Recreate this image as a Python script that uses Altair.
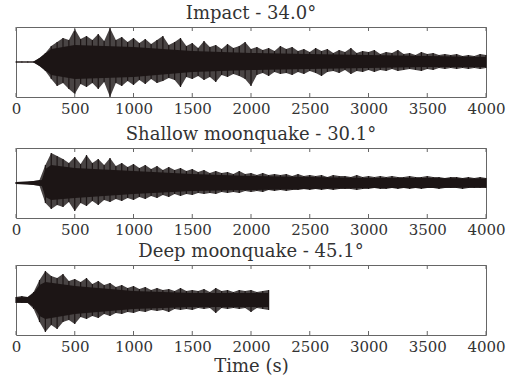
import altair as alt
import pandas as pd

# Time axis (s) and tick positions
tick_values = [0, 500, 1000, 1500, 2000, 2500, 3000, 3500, 4000]
t_full = list(range(0, 4001, 50))
t_deep = list(range(0, 2151, 50))

# Peak envelope of each trace (upper peak and lower trough magnitude, arbitrary units)
impact_upper = [0.5, 0.5, 0.5, 0.5, 4, 9, 16, 20, 24, 22, 33, 23, 26, 22, 28, 21, 34, 22, 25, 20,
                24, 19, 23, 18, 22, 26, 17, 20, 24, 16, 19, 14, 21, 15, 17, 13, 18, 14, 16, 20,
                13, 15, 12, 14, 11, 16, 13, 15, 11, 13, 10, 14, 11, 13, 9, 12, 10, 14, 9, 11,
                10, 12, 8, 10, 9, 12, 8, 9, 7, 10, 8, 9, 7, 8, 7, 8, 6, 7, 6, 8, 7]
impact_lower = [0.5, 0.5, 0.5, 0.5, 4, 9, 17, 24, 21, 27, 32, 22, 25, 21, 27, 20, 35, 21, 24, 19,
                23, 18, 22, 17, 21, 19, 16, 18, 25, 15, 17, 14, 18, 15, 20, 13, 15, 12, 14, 17,
                24, 13, 11, 14, 10, 12, 11, 13, 10, 12, 9, 11, 14, 10, 9, 11, 8, 12, 9, 10,
                8, 10, 8, 9, 7, 9, 8, 7, 8, 9, 7, 8, 6, 7, 6, 7, 6, 7, 6, 7, 6]

shallow_upper = [1, 1, 1, 2, 3, 18, 30, 27, 24, 20, 26, 19, 28, 20, 24, 18, 25, 17, 20, 16,
                 19, 15, 18, 14, 17, 13, 16, 13, 15, 12, 14, 11, 13, 10, 12, 10, 11, 9, 12, 9,
                 10, 8, 10, 8, 9, 8, 9, 7, 9, 7, 8, 7, 8, 6, 8, 7, 7, 6, 8, 6,
                 7, 6, 7, 6, 7, 6, 6, 7, 6, 6, 7, 6, 6, 5, 6, 6, 5, 6, 5, 6, 5]
shallow_lower = [1, 1, 1, 2, 3, 20, 26, 22, 24, 19, 28, 20, 23, 18, 22, 17, 19, 16, 18, 15,
                 17, 14, 16, 13, 15, 12, 14, 11, 13, 11, 12, 10, 11, 10, 11, 9, 10, 9, 10, 8,
                 9, 8, 9, 7, 8, 7, 8, 7, 7, 6, 7, 6, 7, 6, 7, 6, 6, 6, 7, 6,
                 6, 5, 6, 6, 5, 6, 5, 6, 5, 6, 5, 5, 6, 5, 5, 5, 6, 5, 5, 5, 5]

deep_upper = [3, 4, 3, 8, 20, 29, 24, 22, 26, 19, 21, 18, 22, 16, 19, 15, 17, 13, 15, 12,
              14, 11, 13, 10, 12, 10, 11, 9, 12, 9, 10, 9, 11, 8, 12, 9, 10, 8, 10, 9,
              10, 8, 9, 10]
deep_lower = [3, 3, 3, 9, 22, 32, 25, 29, 22, 20, 24, 17, 19, 16, 18, 14, 16, 13, 14, 12,
              13, 11, 12, 10, 11, 10, 12, 9, 10, 9, 10, 8, 9, 8, 13, 8, 9, 8, 9, 8,
              12, 8, 9, 10]

# Dense core of each trace (where the signal is solid black)
impact_core_t = [0, 150, 200, 300, 500, 1000, 1500, 2000, 2500, 3000, 3500, 4000]
impact_core_hi = [0.5, 0.5, 4, 13, 17, 15, 11, 9, 8, 7, 6, 5]
impact_core_lo = [0.5, 0.5, 4, 13, 17, 15, 10, 8, 7, 6, 5, 5]

shallow_core_t = [0, 150, 220, 250, 300, 500, 1000, 1500, 2000, 2500, 3000, 3500, 4000]
shallow_core_hi = [1, 2, 3, 14, 18, 15, 12, 9, 7, 6, 5, 5, 4.5]
shallow_core_lo = [1, 2, 3, 14, 17, 15, 11, 8, 7, 6, 5, 5, 4.5]

deep_core_t = [0, 100, 150, 200, 250, 500, 1000, 1500, 2000, 2150]
deep_core_hi = [2.5, 3, 7, 15, 18, 14, 9, 7, 7, 7]
deep_core_lo = [2.5, 3, 7, 16, 19, 14, 9, 7, 7, 7]

titles = ["Impact - 34.0°", "Shallow moonquake - 30.1°", "Deep moonquake - 45.1°"]

FONT = "DejaVu Serif"
TRACE = "#1c1515"
TEXT = "#333333"
FRAME = "#666666"
W, H = 470, 70


def panel(times, upper, lower, core_t, core_hi, core_lo, title, show_xtitle):
    peaks = pd.DataFrame({"t": times, "hi": upper, "lo": [-v for v in lower]})
    core = pd.DataFrame({"t": core_t, "hi": core_hi, "lo": [-v for v in core_lo]})
    ticks = pd.DataFrame({"t": tick_values})
    xscale = alt.Scale(domain=[0, 4000], nice=False)
    yscale = alt.Scale(domain=[-35, 35], nice=False)
    axis = alt.Axis(values=tick_values, format="d", tickSize=0, domain=False, grid=False,
                    labelFont=FONT, labelFontSize=15, labelColor=TEXT,
                    labelPadding=4, labelFlush=False,
                    title="Time (s)" if show_xtitle else None,
                    titleFont=FONT, titleFontSize=18, titleFontWeight="normal",
                    titleColor=TEXT, titlePadding=3)
    fringe = alt.Chart(peaks).mark_area(color=TRACE, opacity=0.8).encode(
        x=alt.X("t:Q", scale=xscale, axis=axis),
        y=alt.Y("hi:Q", scale=yscale, axis=None),
        y2="lo:Q",
    )
    spikes = alt.Chart(peaks).mark_rule(color=TRACE, strokeWidth=1.2).encode(
        x=alt.X("t:Q", scale=xscale),
        y=alt.Y("hi:Q", scale=yscale),
        y2="lo:Q",
    )
    body = alt.Chart(core).mark_area(color=TRACE).encode(
        x=alt.X("t:Q", scale=xscale),
        y=alt.Y("hi:Q", scale=yscale),
        y2="lo:Q",
    )
    top_ticks = alt.Chart(ticks).mark_rule(color=FRAME, strokeWidth=1).encode(
        x=alt.X("t:Q", scale=xscale), y=alt.value(0), y2=alt.value(4))
    bottom_ticks = alt.Chart(ticks).mark_rule(color=FRAME, strokeWidth=1).encode(
        x=alt.X("t:Q", scale=xscale), y=alt.value(H), y2=alt.value(H - 4))
    return alt.layer(fringe, spikes, body, top_ticks, bottom_ticks).properties(
        width=W, height=H,
        title=alt.TitleParams(title, font=FONT, fontSize=18, fontWeight="normal",
                              color=TEXT, offset=4),
    )


upper_pair = alt.vconcat(
    panel(t_full, impact_upper, impact_lower, impact_core_t, impact_core_hi, impact_core_lo,
          titles[0], False),
    panel(t_full, shallow_upper, shallow_lower, shallow_core_t, shallow_core_hi, shallow_core_lo,
          titles[1], False),
    spacing=8,
)

chart = alt.vconcat(
    upper_pair,
    panel(t_deep, deep_upper, deep_lower, deep_core_t, deep_core_hi, deep_core_lo,
          titles[2], True),
    spacing=4,
).properties(
    padding={"left": 10, "top": 4, "right": 5, "bottom": 5},
    background="white",
).configure_view(stroke=FRAME, strokeWidth=1)

chart.save("out.html", embed_options={"renderer": "svg", "actions": False})
